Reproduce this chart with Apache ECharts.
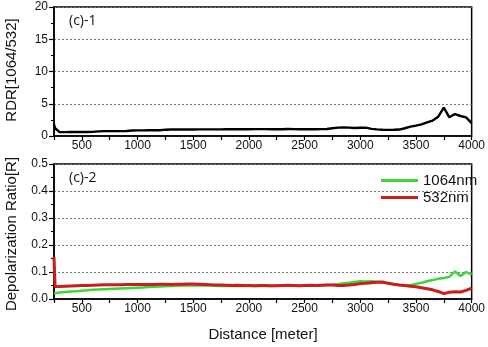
<!DOCTYPE html>
<html>
<head>
<meta charset="utf-8">
<script src="https://cdn.jsdelivr.net/npm/echarts@6/dist/echarts.min.js"></script>
<style>
  html, body { margin: 0; padding: 0; background: #fff; }
  #chart { width: 488px; height: 347px; }
</style>
</head>
<body>
<div id="chart"></div>
<script>
// Range along the beam (m)
const distance = [250, 260, 300, 350, 400, 450, 500, 550, 600, 650, 700, 750, 800, 850, 900, 950,
  1000, 1050, 1100, 1150, 1200, 1250, 1300, 1350, 1400, 1450, 1500, 1550, 1600, 1650, 1700, 1750,
  1800, 1850, 1900, 1950, 2000, 2050, 2100, 2150, 2200, 2250, 2300, 2350, 2400, 2450, 2500, 2550,
  2600, 2650, 2700, 2750, 2800, 2850, 2900, 2950, 3000, 3050, 3100, 3150, 3200, 3250, 3300, 3350,
  3400, 3450, 3500, 3550, 3600, 3650, 3700, 3750, 3800, 3850, 3900, 3950, 4000];

// (c)-1 : ratio of 1064 to 532 depolarization
const rdr = [1.8, 1.2, 0.6, 0.6, 0.62, 0.62, 0.63, 0.63, 0.64, 0.72, 0.75, 0.75, 0.76, 0.76, 0.77, 0.86,
  0.87, 0.87, 0.88, 0.88, 0.9, 0.98, 1.0, 1.0, 1.0, 1.01, 1.0, 1.02, 1.02, 1.03, 1.03, 1.02,
  1.04, 1.04, 1.05, 1.04, 1.05, 1.06, 1.07, 1.06, 1.05, 1.06, 1.05, 1.08, 1.07, 1.05, 1.04, 1.06,
  1.05, 1.07, 1.08, 1.2, 1.3, 1.32, 1.3, 1.25, 1.28, 1.3, 1.1, 1.02, 0.98, 0.95, 0.97, 1.0,
  1.2, 1.45, 1.6, 1.8, 2.1, 2.4, 3.0, 4.4, 2.9, 3.4, 3.1, 2.9, 2.0];

// (c)-2 : depolarization ratio per wavelength
const dep1064 = [0.02, 0.022, 0.024, 0.026, 0.028, 0.029, 0.031, 0.032, 0.034, 0.035, 0.036, 0.037, 0.038, 0.039, 0.04, 0.041,
  0.042, 0.043, 0.044, 0.045, 0.046, 0.047, 0.048, 0.049, 0.05, 0.05, 0.051, 0.05, 0.051, 0.05, 0.049, 0.048,
  0.048, 0.049, 0.048, 0.049, 0.048, 0.048, 0.049, 0.048, 0.048, 0.049, 0.05, 0.05, 0.049, 0.05, 0.05, 0.05,
  0.051, 0.05, 0.052, 0.053, 0.055, 0.058, 0.06, 0.063, 0.066, 0.065, 0.066, 0.064, 0.062, 0.058, 0.055, 0.052,
  0.05, 0.052, 0.056, 0.06, 0.066, 0.07, 0.075, 0.078, 0.082, 0.102, 0.085, 0.1, 0.09];

const dep532 = [0.155, 0.046, 0.046, 0.047, 0.048, 0.049, 0.05, 0.05, 0.051, 0.052, 0.053, 0.053, 0.053, 0.053, 0.054, 0.054,
  0.054, 0.054, 0.054, 0.054, 0.055, 0.055, 0.054, 0.055, 0.055, 0.056, 0.056, 0.055, 0.054, 0.053, 0.052, 0.052,
  0.051, 0.05, 0.051, 0.05, 0.05, 0.049, 0.05, 0.05, 0.049, 0.049, 0.05, 0.051, 0.05, 0.049, 0.05, 0.051,
  0.05, 0.051, 0.052, 0.052, 0.05, 0.05, 0.052, 0.054, 0.057, 0.058, 0.06, 0.062, 0.063, 0.058, 0.055, 0.052,
  0.05, 0.047, 0.045, 0.042, 0.038, 0.034, 0.028, 0.02, 0.025, 0.027, 0.026, 0.032, 0.04];

const seriesNames = ['1064nm', '532nm'];
const rdrTicks = [0, 5, 10, 15, 20];
const depTicks = [0, 0.1, 0.2, 0.3, 0.4, 0.5];

const pairs = (ys) => distance.map((d, i) => [d, ys[i]]);

const labelFont = { fontFamily: 'Liberation Sans', fontSize: 12, color: '#111' };

function xAxisFor(gridIndex) {
  return {
    type: 'value', gridIndex: gridIndex, min: 250, max: 4000, interval: 250,
    axisLine: { show: true, onZero: false, lineStyle: { color: '#000', width: 1.5 } },
    axisTick: { show: true, inside: false, length: 4, lineStyle: { color: '#000', width: 1.2 } },
    axisLabel: Object.assign({ margin: 4, showMinLabel: true, showMaxLabel: true,
      formatter: (v) => (v % 500 === 0 ? String(v) : '') }, labelFont),
    splitLine: { show: false }
  };
}

function yAxisFor(gridIndex, ticks, decimals) {
  return {
    type: 'value', gridIndex: gridIndex,
    min: ticks[0], max: ticks[ticks.length - 1], interval: ticks[1] - ticks[0],
    axisLine: { show: true, lineStyle: { color: '#000', width: 1.5 } },
    axisTick: { show: true, length: 5, lineStyle: { color: '#000', width: 1.2 } },
    minorTick: { show: true, splitNumber: 2, length: 3, lineStyle: { color: '#000', width: 1 } },
    axisLabel: Object.assign({ margin: 6,
      formatter: (v) => v.toFixed(decimals) }, labelFont),
    splitLine: { show: true, lineStyle: { color: '#777', type: [2, 2], width: 1 } }
  };
}

const chart = echarts.init(document.getElementById('chart'), null, { renderer: 'canvas' });
chart.setOption({
  animation: false,
  backgroundColor: '#fff',
  grid: [
    { left: 54, right: 16, top: 7, height: 129, show: true, borderColor: '#000', borderWidth: 1.5, backgroundColor: 'transparent' },
    { left: 54, right: 16, top: 164, height: 135, show: true, borderColor: '#000', borderWidth: 1.5, backgroundColor: 'transparent' }
  ],
  xAxis: [xAxisFor(0), xAxisFor(1)],
  yAxis: [yAxisFor(0, rdrTicks, 0), yAxisFor(1, depTicks, 1)],
  legend: {
    data: seriesNames,
    orient: 'vertical',
    left: 376, top: 168,
    icon: 'rect', itemWidth: 37, itemHeight: 3, itemGap: 2,
    textStyle: { fontFamily: 'Liberation Sans', fontSize: 15, color: '#111', lineHeight: 15 }
  },
  graphic: [
    { type: 'text', left: 69, top: 14, style: { text: '(c)-1', font: '14px "Open Sans"', fill: '#111' } },
    { type: 'text', left: 69, top: 171, style: { text: '(c)-2', font: '14px "Open Sans"', fill: '#111' } },
    { type: 'text', x: 12, y: 70, rotation: Math.PI / 2,
      style: { text: 'RDR[1064/532]', font: '15px "Liberation Sans"', fill: '#111', align: 'center', verticalAlign: 'middle' } },
    { type: 'text', x: 12, y: 234, rotation: Math.PI / 2,
      style: { text: 'Depolarization Ratio[R]', font: '15px "Liberation Sans"', fill: '#111', align: 'center', verticalAlign: 'middle' } },
    { type: 'text', x: 263, y: 335,
      style: { text: 'Distance [meter]', font: '15px "Liberation Sans"', fill: '#111', align: 'center', verticalAlign: 'middle' } }
  ],
  series: [
    { name: 'RDR', type: 'line', xAxisIndex: 0, yAxisIndex: 0, data: pairs(rdr),
      showSymbol: false, symbol: 'none', lineStyle: { color: '#000', width: 2.4 }, itemStyle: { color: '#000' } },
    { name: seriesNames[0], type: 'line', xAxisIndex: 1, yAxisIndex: 1, data: pairs(dep1064),
      showSymbol: false, symbol: 'none', lineStyle: { color: '#3ad63a', width: 2.5 }, itemStyle: { color: '#3ad63a' } },
    { name: seriesNames[1], type: 'line', xAxisIndex: 1, yAxisIndex: 1, data: pairs(dep532),
      showSymbol: false, symbol: 'none', lineStyle: { color: '#cc1c1c', width: 3 }, itemStyle: { color: '#cc1c1c' } }
  ]
});
</script>
</body>
</html>
